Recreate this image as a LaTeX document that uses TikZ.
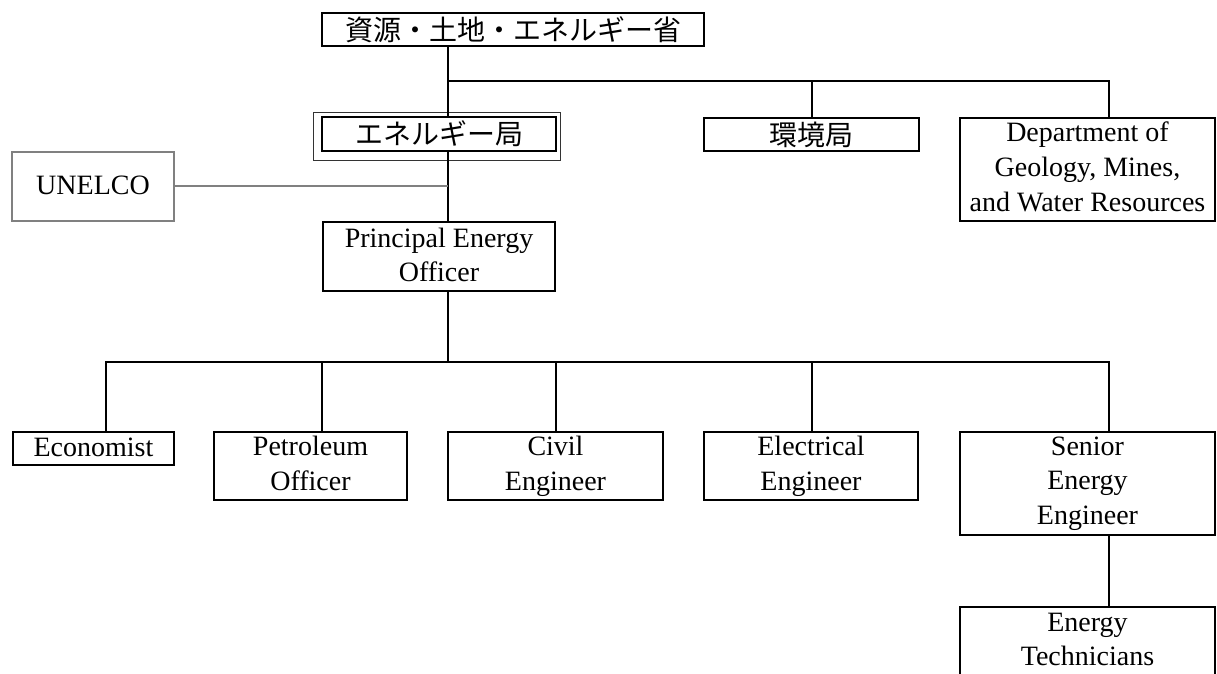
\documentclass[tikz,border=0pt]{standalone}
\usepackage{fontspec}
\setmainfont{Liberation Serif}
\newfontfamily\jp{Noto Sans CJK JP}
\newcommand\topstrut{\rule{0pt}{21.5pt}}
\newcommand\botstrut{\rule[-5.5pt]{0pt}{5.5pt}}
\begin{document}
\begin{tikzpicture}[x=1pt,y=-1pt,
  every node/.style={font=\fontsize{28}{34.7}\selectfont, inner sep=0pt, align=center},
  box/.style={draw=black, line width=2.6pt, rectangle, fill=white,
    execute at begin node=\topstrut, execute at end node=\botstrut},
  jbox/.style={draw=black, line width=2.6pt, rectangle, fill=white, font=\fontsize{28}{34.7}\selectfont\jp},
  graybox/.style={box, draw=black!50},
  frame/.style={draw=black!80, line width=1.1pt, rectangle},
  link/.style={draw=black, line width=2.5pt},
  graylink/.style={draw=black!50, line width=2.6pt}]
\useasboundingbox (0,0) rectangle (1217,673);
\clip (0,0) rectangle (1217,673);
\fill[white] (0,0) rectangle (1217,673);

% nodes
\node[jbox, minimum width=382, minimum height=33] (top) at (513,29.5) {資源・土地・エネルギー省};
\node[frame, minimum width=247, minimum height=48] (bureauout) at (437,136.5) {};
\node[jbox, minimum width=234, minimum height=34] (bureau) at (439,134) {エネルギー局};
\node[jbox, minimum width=215, minimum height=33] (env) at (811.5,134.5) {環境局};
\node[box, minimum width=255, minimum height=103] (dept) at (1087.5,169.5) {Department of\\Geology, Mines,\\and Water Resources};
\node[graybox, minimum width=162, minimum height=69] (unelco) at (93,186.5) {UNELCO};
\node[box, minimum width=232, minimum height=69] (principal) at (439,256.5) {\raisebox{-2pt}{Principal Energy}\\\raisebox{-2pt}{Officer}};
\node[box, minimum width=161, minimum height=33] (econ) at (93.5,448.5) {Economist};
\node[box, minimum width=193, minimum height=68] (petro) at (310.5,466) {Petroleum\\Officer};
\node[box, minimum width=215, minimum height=68] (civil) at (555.5,466) {Civil\\Engineer};
\node[box, minimum width=214, minimum height=68] (elec) at (811,466) {Electrical\\Engineer};
\node[box, minimum width=255, minimum height=103] (senior) at (1087.5,483.5) {Senior\\Energy\\Engineer};
\node[box, minimum width=255, minimum height=70] (tech) at (1087.5,642) {Energy\\Technicians};

% coordinates
\coordinate (trunk) at (448,81);
\coordinate (jenv) at (812,81);
\coordinate (jdept) at (1109,81);
\coordinate (junel) at (448,186);
\coordinate (bar) at (448,362);
\coordinate (d1) at (106,362);
\coordinate (d2) at (322,362);
\coordinate (d3) at (556,362);
\coordinate (d4) at (812,362);
\coordinate (d5) at (1109,362);

% connectors
\draw[link] (trunk |- top.south) -- (trunk |- bureau.north);
\draw[link] (trunk |- bureau.south) -- (trunk |- principal.north);
\draw[link] (trunk) -- (jdept) -- (jdept |- dept.north);
\draw[link] (jenv) -- (jenv |- env.north);
\draw[graylink] (junel -| unelco.east) -- (junel);
\draw[link] (trunk |- principal.south) -- (bar);
\draw[link] (d1 |- econ.north) -- (d1) -- (d5) -- (d5 |- senior.north);
\draw[link] (d2) -- (d2 |- petro.north);
\draw[link] (d3) -- (d3 |- civil.north);
\draw[link] (d4) -- (d4 |- elec.north);
\draw[link] (d5 |- senior.south) -- (d5 |- tech.north);
\end{tikzpicture}
\end{document}
